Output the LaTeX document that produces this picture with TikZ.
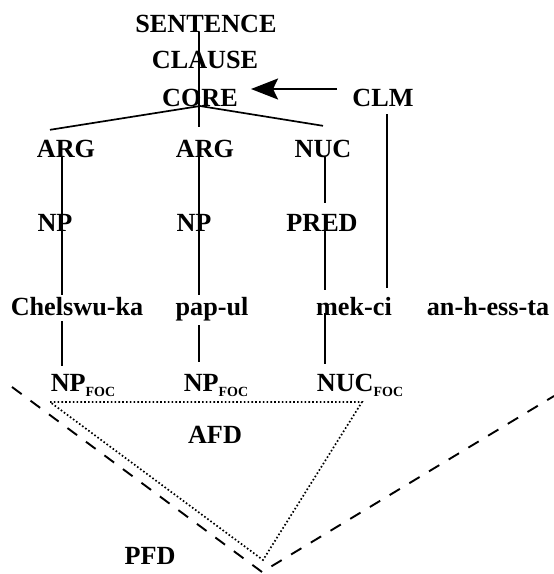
\documentclass[tikz,border=0pt]{standalone}
\usepackage{fontspec}
\setmainfont{Liberation Serif}
\usetikzlibrary{arrows.meta}

\newcommand{\foc}{\raisebox{-5pt}{\fontsize{14}{15}\selectfont FOC}}

\begin{document}
\begin{tikzpicture}[x=1pt,y=-1pt,
    lbl/.style={anchor=base,inner sep=0pt,text height=20pt,text depth=6pt,
                font=\fontsize{26.2}{30}\selectfont\bfseries},
    tree/.style={line width=1.7pt},
    fatarrow/.style={line width=1.7pt,-{Stealth[length=27pt,width=21pt,inset=5pt]},
                     shorten <=15pt,shorten >=13pt},
    pfdline/.style={line width=1.9pt,dash pattern=on 12pt off 11pt},
    afdline/.style={line width=1.7pt,dash pattern=on 1.6pt off 2.2pt}]
  \useasboundingbox (0,0) rectangle (554,574);
  % columns of the tree lines
  \coordinate (c1) at (62,0);
  \coordinate (c2) at (199,0);
  \coordinate (c3) at (325,0);
  \coordinate (c4) at (387,0);

  \node[lbl] (sent)   at (206,32)  {SENTENCE};
  \node[lbl] (clause) at (205,68)  {CLAUSE};
  \node[lbl] (core)   at (200,106) {CORE};
  \node[lbl] (clm)    at (383,106) {CLM};
  \node[lbl] (arg1)   at (66,157)  {ARG};
  \node[lbl] (arg2)   at (205,157) {ARG};
  \node[lbl] (nuc)    at (323,157) {NUC};
  \node[lbl] (np1)    at (55,231)  {NP};
  \node[lbl] (np2)    at (194,231) {NP};
  \node[lbl] (pred)   at (322,231) {PRED};
  \node[lbl] (chel)   at (77,315)  {Chelswu-ka};
  \node[lbl] (pap)    at (212,315) {pap-ul};
  \node[lbl] (mek)    at (354,315) {mek-ci};
  \node[lbl] (anh)    at (488,315) {an-h-ess-ta};
  \node[lbl] (foc1)   at (83,391)  {NP\foc};
  \node[lbl] (foc2)   at (216,391) {NP\foc};
  \node[lbl] (foc3)   at (360,391) {NUC\foc};
  \node[lbl] (afd)    at (215,443) {AFD};
  \node[lbl] (pfd)    at (150,564) {PFD};

  \path[tree]
    (sent.base -| c2) edge ([yshift=10pt]arg2.north -| c2)
    (core.base) edge ([xshift=-16pt,yshift=7pt]arg1.north)
    (core.base) edge ([yshift=11pt]nuc.north)
    (arg1.base -| c1) edge (chel.north -| c1)
    (chel.south -| c1) edge ([yshift=5pt]foc1.north -| c1)
    ([yshift=7pt]arg2.base -| c2) edge (pap.north -| c2)
    ([yshift=-4pt]pap.south -| c2) edge ([yshift=9pt]foc2.north -| c2)
    (nuc.base -| c3) edge ([yshift=8pt]pred.north -| c3)
    (pred.base -| c3) edge ([yshift=5pt]mek.north -| c3)
    ([yshift=2pt]mek.base -| c3) edge ([yshift=7pt]foc3.north -| c3)
    ([yshift=-8pt]clm.base -| c4) edge ([yshift=7pt]mek.north -| c4);
  \draw[fatarrow] ([yshift=17pt]clm.base west) -- ([yshift=17pt]core.base east);

  % focus domains
  \coordinate (afdl) at (50,402);
  \coordinate (afdr) at (362,402);
  \coordinate (afdv) at (263,560);
  \draw[afdline] (afdl) -- (afdr) -- (afdv) -- cycle;
  \coordinate (pfdl) at (12,387);
  \coordinate (pfdv) at (262,572);
  \coordinate (pfdr) at (554,396);
  \draw[pfdline] (pfdl) -- (pfdv) -- (pfdr);
\end{tikzpicture}
\end{document}
